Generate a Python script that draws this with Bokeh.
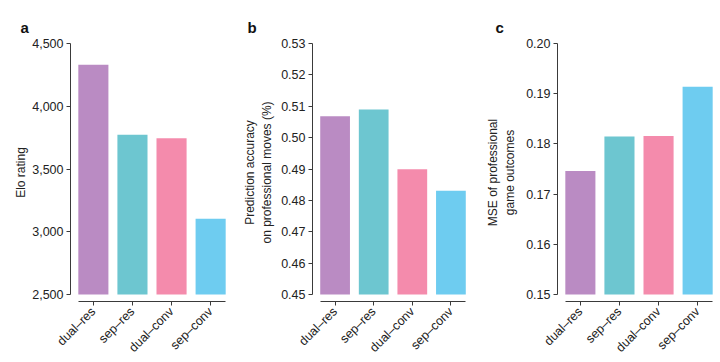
import math
from bokeh.plotting import figure
from bokeh.layouts import row
from bokeh.models import FixedTicker, NumeralTickFormatter
from bokeh.embed import file_html
from bokeh.resources import INLINE

categories = ["dual–res", "sep–res", "dual–conv", "sep–conv"]
colors = ["#BA8BC3", "#6DC6D0", "#F48BAC", "#6ECCF0"]

elo_rating = [4330, 3772, 3746, 3103]
elo_ticks = [2500, 3000, 3500, 4000, 4500]

pred_accuracy = [0.5068, 0.5090, 0.4899, 0.4831]
pred_ticks = [0.45, 0.46, 0.47, 0.48, 0.49, 0.50, 0.51, 0.52, 0.53]

mse_outcomes = [0.1746, 0.1815, 0.1816, 0.1914]
mse_ticks = [0.15, 0.16, 0.17, 0.18, 0.19, 0.20]

FONT = "Liberation Sans"
AXIS_COLOR = "#3a3a3a"
TEXT_COLOR = "#222222"
BAR_W = 0.77
FRAME_W = 163
FRAME_H = 259
GAP = 7.0


def panel(letter, values, ticks, fmt, ylabel, left, right, title_offset, label_standoff):
    lo, hi = ticks[0], ticks[-1]
    ystart = lo - (hi - lo) * GAP / (FRAME_H - GAP)
    n = len(categories)
    xs = list(range(n))
    p = figure(width=left + FRAME_W + right, height=362, output_backend="svg",
               toolbar_location=None,
               x_range=(-BAR_W / 2 - 0.2, n - 1 + BAR_W / 2 + 0.2),
               y_range=(ystart, hi),
               min_border_left=left, min_border_right=right,
               min_border_top=43, min_border_bottom=60)
    p.vbar(x=xs, top=values, bottom=lo, width=BAR_W, fill_color=colors, line_color=None)
    p.outline_line_color = None
    p.grid.visible = False
    p.background_fill_color = "white"
    p.border_fill_color = "white"

    p.title.text = letter
    p.title.align = "left"
    p.title.offset = title_offset
    p.title.standoff = 15
    p.title.text_font = FONT
    p.title.text_font_size = "15px"
    p.title.text_font_style = "bold"
    p.title.text_color = "#111111"

    ya = p.yaxis[0]
    ya.ticker = FixedTicker(ticks=ticks)
    ya.formatter = NumeralTickFormatter(format=fmt)
    ya.bounds = (lo, hi)
    ya.axis_label = ylabel
    ya.axis_label_text_font = FONT
    ya.axis_label_text_font_size = "12px"
    ya.axis_label_text_font_style = "normal"
    ya.axis_label_text_color = TEXT_COLOR
    ya.axis_label_standoff = label_standoff
    ya.major_label_text_font = FONT
    ya.major_label_text_font_size = "12.5px"
    ya.major_label_text_color = TEXT_COLOR
    ya.major_label_standoff = 3
    ya.major_tick_in = 0
    ya.major_tick_out = 4
    ya.minor_tick_in = 0
    ya.minor_tick_out = 0
    ya.axis_line_color = AXIS_COLOR
    ya.major_tick_line_color = AXIS_COLOR

    xa = p.xaxis[0]
    xa.ticker = FixedTicker(ticks=xs)
    xa.major_label_overrides = {i: c for i, c in enumerate(categories)}
    xa.bounds = (-BAR_W / 2, n - 1 + BAR_W / 2)
    xa.major_label_orientation = math.pi / 4
    xa.major_label_text_font = FONT
    xa.major_label_text_font_size = "12.5px"
    xa.major_label_text_color = TEXT_COLOR
    xa.major_label_standoff = 4
    xa.major_tick_in = 0
    xa.major_tick_out = 4
    xa.minor_tick_in = 0
    xa.minor_tick_out = 0
    xa.axis_line_color = AXIS_COLOR
    xa.major_tick_line_color = AXIS_COLOR
    return p


pa = panel("a", elo_rating, elo_ticks, "0,0", "Elo rating", 70, 7, -50, 1)
pb = panel("b", pred_accuracy, pred_ticks, "0.00",
           "Prediction accuracy\non professional moves (%)", 70, 7, -65, 4)
pc = panel("c", mse_outcomes, mse_ticks, "0.00",
           "MSE of professional\ngame outcomes", 77, 0, -62, 6)

layout = row(pa, pb, pc)
open("out.html", "w").write(file_html(layout, INLINE))
